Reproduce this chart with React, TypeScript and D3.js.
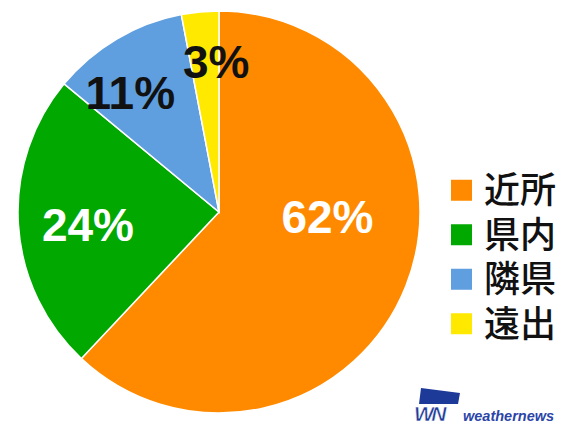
import React from "react";
import * as d3 from "d3";

const categories = ["近所", "県内", "隣県", "遠出"];
const values = [62, 24, 11, 3];
const labels = ["62%", "24%", "11%", "3%"];
const colors = ["#FF8A00", "#00A800", "#5F9EDF", "#FFE900"];
const labelColors = ["#ffffff", "#ffffff", "#111111", "#111111"];
// label placement: radius as fraction of pie radius, and angular shift (degrees) from slice mid-angle
const labelRadiusFrac = [0.54, 0.655, 0.74, 0.75];
const labelAngleShift = [-19, -2, -6, 4.3];

export default function App() {
  const W = 570, H = 425;
  const cx = 219, cy = 212, r = 201;
  const pie = d3.pie<number>().sort(null).value((d) => d);
  const arcs = pie(values);
  const arc = d3.arc<d3.PieArcDatum<number>>().innerRadius(0).outerRadius(r);

  const legendY = d3.scaleBand<string>().domain(categories).range([168, 346]);
  const fs = 46;

  return (
    <svg width={W} height={H} style={{ position: "absolute", left: 0, top: 0, background: "#fff" }}
      fontFamily="'Liberation Sans', Arial, sans-serif">
      <g transform={`translate(${cx},${cy})`}>
        {arcs.map((a, i) => (
          <path key={i} d={arc(a) || ""} fill={colors[i]} stroke="#ffffff" strokeWidth={1.5} />
        ))}
        {arcs.map((a, i) => {
          const ang = (a.startAngle + a.endAngle) / 2 + (labelAngleShift[i] * Math.PI) / 180;
          const rr = r * labelRadiusFrac[i];
          const x = rr * Math.sin(ang);
          const y = -rr * Math.cos(ang);
          return (
            <text key={i} x={x} y={y + fs * 0.36} textAnchor="middle"
              fill={labelColors[i]} fontSize={fs} fontWeight="bold">
              {labels[i]}
            </text>
          );
        })}
      </g>
      <g>
        {categories.map((c, i) => {
          const y0 = (legendY(c) as number) + legendY.bandwidth() / 2;
          return (
            <g key={c}>
              <rect x={451} y={y0 - 10.5} width={21} height={21} fill={colors[i]} />
              <text x={484} y={y0 + 13} fontSize={36}
                fontFamily="'Noto Sans CJK JP', sans-serif" fontWeight={500} fill="#111">
                {c}
              </text>
            </g>
          );
        })}
      </g>
      <g>
        <path d="M421,388 L460,393 L458,404 L419,404 Z" fill="#1E3A99" />
        <text x={414} y={421} fontSize={21} fontWeight="bold" fontStyle="italic" fill="#1E3A99"
          stroke="#ffffff" strokeWidth={0.5} letterSpacing={-2.5}>WN</text>
        <text x={463} y={421} fontSize={14.5} fontWeight="bold" fontStyle="italic" fill="#2B45A8">
          weathernews
        </text>
      </g>
    </svg>
  );
}
